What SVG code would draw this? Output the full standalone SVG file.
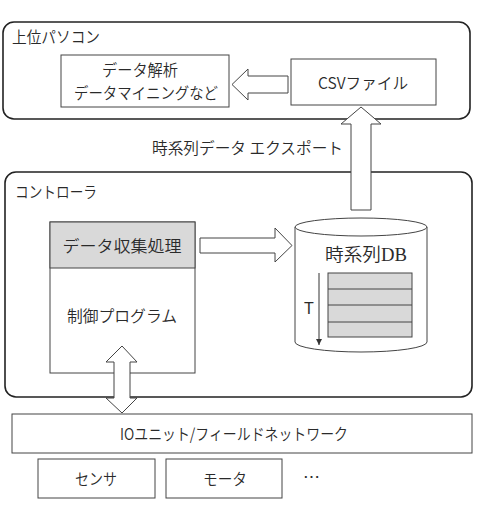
<svg xmlns="http://www.w3.org/2000/svg" width="480" height="522" viewBox="0 0 480 522">
<style>
text{font-family:"Noto Sans CJK JP","Noto Sans",sans-serif;font-size:16px;font-weight:350;fill:#2a2a2a;}
.c{text-anchor:middle;}
.outer{fill:#fff;stroke:#222;stroke-width:1.6;}
.box{fill:#fff;stroke:#444;stroke-width:1;}
.arw{fill:#fff;stroke:#444;stroke-width:1;}
.gray{fill:#d9d9d9;stroke:#444;stroke-width:1;}
</style>
<defs>
<marker id="ah" markerWidth="6" markerHeight="6" refX="6" refY="3" orient="auto" markerUnits="userSpaceOnUse" viewBox="0 0 6 6">
<path d="M0,0 L6,3 L0,6 Z" fill="#333"/>
</marker>
</defs>
<rect width="480" height="522" fill="#fff"/>

<g id="pc">
<rect class="outer" x="3" y="22" width="467" height="97" rx="11"/>
<text x="12" y="43" textLength="88" lengthAdjust="spacingAndGlyphs">上位パソコン</text>
</g>
<g id="analysis">
<rect class="box" x="61" y="55" width="168" height="52"/>
<text class="c" x="140" y="76" textLength="76" lengthAdjust="spacingAndGlyphs">データ解析</text>
<text class="c" x="146" y="98.5" textLength="144" lengthAdjust="spacingAndGlyphs">データマイニングなど</text>
</g>
<g id="csv">
<rect class="box" x="291" y="59" width="145" height="46"/>
<text class="c" x="363" y="89" textLength="90" lengthAdjust="spacingAndGlyphs">CSVファイル</text>
</g>

<g id="controller">
<rect class="outer" x="5" y="172" width="467" height="225" rx="11"/>
<text x="15" y="197.5" textLength="82" lengthAdjust="spacingAndGlyphs">コントローラ</text>
</g>
<g id="program">
<rect class="box" x="50" y="222" width="145" height="151"/>
<rect class="gray" x="50" y="222" width="145" height="46"/>
<text class="c" x="122" y="252" textLength="119" lengthAdjust="spacingAndGlyphs">データ収集処理</text>
<text class="c" x="122" y="322" textLength="110" lengthAdjust="spacingAndGlyphs">制御プログラム</text>
</g>
<g id="db">
<path class="box" d="M295,227 L295,342 A66,10 0 0 0 427,342 L427,227"/>
<ellipse class="box" cx="361" cy="227" rx="66" ry="9"/>
<text x="325" y="261" style="font-size:18px" textLength="82" lengthAdjust="spacingAndGlyphs">時系列<tspan style="font-family:'Liberation Serif',serif">DB</tspan></text>
<rect class="gray" x="328" y="273" width="84" height="64"/>
<line x1="328" y1="289" x2="412" y2="289" stroke="#444" stroke-width="1"/>
<line x1="328" y1="305" x2="412" y2="305" stroke="#444" stroke-width="1"/>
<line x1="328" y1="322" x2="412" y2="322" stroke="#444" stroke-width="1"/>
<line x1="319" y1="273" x2="319" y2="345" stroke="#333" stroke-width="1" marker-end="url(#ah)"/>
<text class="c" x="309" y="314" style="font-family:'Liberation Sans',sans-serif">T</text>
</g>

<g id="io">
<rect class="box" x="12" y="414" width="460" height="39"/>
<text class="c" x="234" y="440" textLength="228" lengthAdjust="spacingAndGlyphs">IOユニット/フィールドネットワーク</text>
</g>
<g id="sensor">
<rect class="box" x="38" y="459" width="117" height="39"/>
<text class="c" x="96" y="485" textLength="42" lengthAdjust="spacingAndGlyphs">センサ</text>
</g>
<g id="motor">
<rect class="box" x="166" y="459" width="116" height="39"/>
<text class="c" x="225" y="485" textLength="44" lengthAdjust="spacingAndGlyphs">モータ</text>
</g>
<g id="more">
<text x="303" y="483" textLength="17" lengthAdjust="spacingAndGlyphs">…</text>
</g>

<g id="connectors">
<polygon class="arw" points="288,76 248,76 248,69 232,84.5 248,100 248,93 288,93"/>
<polygon class="arw" points="351,210 351,124 341,124 361,107 381,124 371,124 371,210"/>
<polygon class="arw" points="200,238 275,238 275,228 292,245.5 275,262 275,253 200,253"/>
<polygon class="arw" points="114,362 106,362 122,346 137,362 130,362 130,398 137,398 122,413 106,398 114,398"/>
<text x="152" y="154" textLength="191" lengthAdjust="spacingAndGlyphs">時系列データ エクスポート</text>
</g>
</svg>
